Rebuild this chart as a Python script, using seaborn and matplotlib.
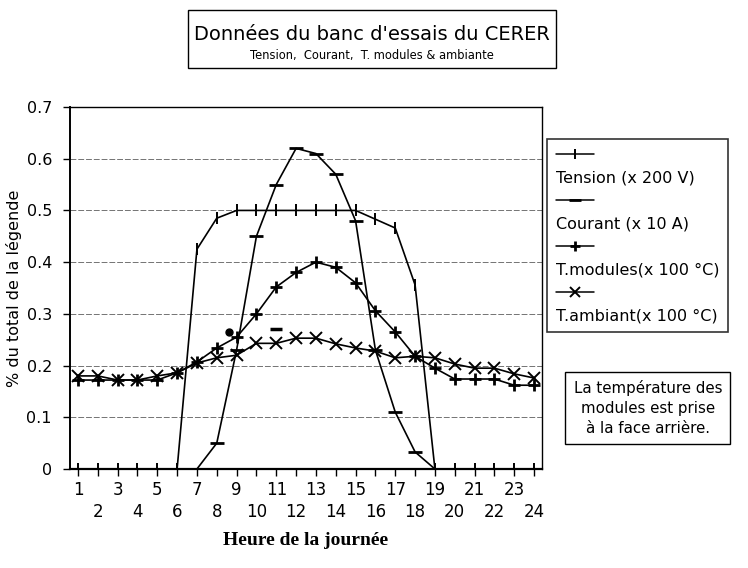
import matplotlib
matplotlib.use("Agg")
import matplotlib.pyplot as plt
import seaborn as sns
from matplotlib.lines import Line2D
from matplotlib.patches import Rectangle

hours = list(range(1, 25))
tension = [0, 0, 0, 0, 0, 0, 0.425, 0.485, 0.5, 0.5, 0.5, 0.5, 0.5, 0.5, 0.5,
           0.483, 0.466, 0.356, 0, 0, 0, 0, 0, 0]
courant = [0, 0, 0, 0, 0, 0, 0, 0.05, 0.23, 0.45, 0.55, 0.62, 0.61, 0.57, 0.48,
           0.23, 0.11, 0.033, 0, 0, 0, 0, 0, 0]
t_modules = [0.172, 0.172, 0.172, 0.172, 0.172, 0.186, 0.207, 0.234, 0.255, 0.30,
             0.352, 0.38, 0.40, 0.39, 0.36, 0.306, 0.265, 0.218, 0.195, 0.174,
             0.174, 0.174, 0.162, 0.162]
t_ambiant = [0.18, 0.18, 0.172, 0.172, 0.18, 0.186, 0.205, 0.215, 0.22, 0.243,
             0.243, 0.253, 0.253, 0.242, 0.234, 0.228, 0.215, 0.218, 0.215, 0.203,
             0.195, 0.195, 0.184, 0.176]
# stray marks visible on the original printout
stray_dash = (11, 0.27)
stray_dot = (8.6, 0.265)

labels = ["Tension (x 200 V)", "Courant (x 10 A)",
          "T.modules(x 100 \u00b0C)", "T.ambiant(x 100 \u00b0C)"]
markers = ["|", "_", "+", "x"]

sns.set_style("white")
plt.rcParams['font.family'] = ['DejaVu Sans']
plt.rcParams.update({'text.color': 'black', 'axes.labelcolor': 'black',
                     'xtick.color': 'black', 'ytick.color': 'black'})

fig = plt.figure(figsize=(7.48, 5.68), dpi=100)
ax = fig.add_axes([0.0936, 0.1743, 0.631, 0.6373])

series = [tension, courant, t_modules, t_ambiant]
msizes = [8, 10, 8, 8]
mews = [1.4, 2.0, 2.0, 1.4]
for vals, mk, ms, mw in zip(series, markers, msizes, mews):
    sns.lineplot(x=hours, y=vals, ax=ax, color="black", lw=1.2, marker=mk,
                 markersize=ms, markeredgewidth=mw, markeredgecolor="black")

ax.plot([stray_dash[0]], [stray_dash[1]], marker="_", ms=9, mew=2.5, color="black")
ax.plot([stray_dot[0]], [stray_dot[1]], marker="o", ms=5, color="black")

ax.set_xlim(0.6, 24.4)
ax.set_ylim(0, 0.7)
ax.set_yticks([0, 0.1, 0.2, 0.3, 0.4, 0.5, 0.6, 0.7])
ax.set_yticklabels(["0", "0.1", "0.2", "0.3", "0.4", "0.5", "0.6", "0.7"])
ax.set_xticks(hours)
ax.set_xticklabels([str(h) if h % 2 else "\n" + str(h) for h in hours])
ax.tick_params(axis="both", direction="out", length=5, width=1, color="black",
               bottom=True, left=True)
ax.tick_params(axis="y", labelsize=11.5, pad=8)
ax.tick_params(axis="x", labelsize=12, pad=4)
for t in ax.get_xticklabels():
    t.set_linespacing(1.25)
ax.yaxis.grid(True, color="0.45", linestyle=(0, (6, 2)), lw=0.7)
ax.xaxis.grid(False)
for s in ax.spines.values():
    s.set_visible(True)
    s.set_color("black")
    s.set_linewidth(1.0)
ax.spines["bottom"].set_linewidth(1.6)
ax.spines["left"].set_linewidth(1.4)

ax.set_ylabel("% du total de la l\u00e9gende", fontsize=11.5, labelpad=3)
ax.set_xlabel("Heure de la journ\u00e9e", family="Liberation Serif",
              fontweight="bold", fontsize=14, labelpad=8)

# legend: line sample above each label
handles, texts = [], []
blank = Line2D([], [], color="none")
for mk, ms, mw, lab in zip(markers, msizes, mews, labels):
    handles.append(Line2D([], [], color="black", lw=1.1, marker=mk,
                          markersize=ms * 0.9, markeredgewidth=mw))
    texts.append("")
    handles.append(blank)
    texts.append(lab)
leg = ax.legend(handles, texts, loc="upper left", bbox_to_anchor=(1.01, 0.912),
                borderaxespad=0, fontsize=11.5, handlelength=2.4,
                handletextpad=-2.4, labelspacing=0.5, frameon=True,
                fancybox=False, borderpad=0.55)
leg.get_frame().set_edgecolor("black")
leg.get_frame().set_linewidth(1.2)

# title box
fig.patches.append(Rectangle((0.251, 0.880), 0.492, 0.102, transform=fig.transFigure,
                             fill=False, edgecolor="black", lw=1.0))
fig.text(0.497, 0.940, "Donn\u00e9es du banc d'essais du CERER", ha="center",
         va="center", fontsize=14)
fig.text(0.497, 0.902, "Tension,  Courant,  T. modules & ambiante", ha="center",
         va="center", fontsize=8.3)

# note box
fig.text(0.866, 0.282, "La temp\u00e9rature des\nmodules est prise\n\u00e0 la face arri\u00e8re.",
         ha="center", va="center", fontsize=10.8, linespacing=1.4,
         bbox=dict(boxstyle="square,pad=0.55", fc="white", ec="black", lw=1.0))

fig.savefig("out.png", dpi=100)
